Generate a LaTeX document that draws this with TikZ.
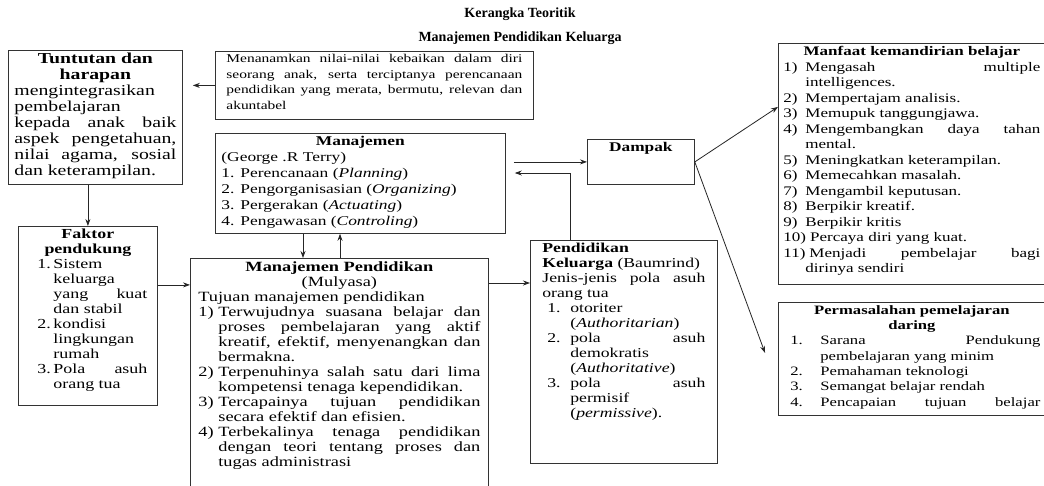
\documentclass[tikz,border=0pt]{standalone}
\usepackage{fontspec}
\usepackage{tikz}
\usetikzlibrary{arrows.meta}
\setmainfont{Liberation Serif}[FakeStretch=1.3]
\newfontfamily\titlefont{Liberation Serif}

\newlength\labw
\newcommand\bx[5]{\parbox[c][#2pt][t]{#1pt}{\fontsize{#3}{#4}\selectfont
  \parindent=0pt\hyphenpenalty=10000\exhyphenpenalty=10000
  \lineskiplimit=-100pt\tolerance=10000\hbadness=10000 #5}}
\newcommand\itm[2]{\par\hangindent=\labw\hangafter=1\noindent
  \sbox0{#1}\dimen0=\wd0 \advance\dimen0 2pt
  \ifdim\dimen0<\labw\makebox[\labw][l]{#1}\else\box0\hspace{4pt}\fi #2}

\begin{document}
\begin{tikzpicture}[
  x=1pt, y=-1pt,
  box/.style={draw=black!80, line width=0.8pt, anchor=north west,
    inner xsep=5pt, inner ysep=3pt},
  arrow/.style={-{Stealth[length=7pt,width=5pt]}, line width=0.8pt, draw=black!85}
]
  \useasboundingbox (0,0) rectangle (1044,485);
  \fill[white] (0,0) rectangle (1044,485);
  \clip (0,0) rectangle (1044,485);

  \node[font=\titlefont\bfseries\fontsize{14}{16}\selectfont] (judul) at (520,14) {Kerangka Teoritik};
  \node[font=\titlefont\bfseries\fontsize{14}{16}\selectfont] (subjudul) at (520,38) {Manajemen Pendidikan Keluarga};

  \node[box, inner xsep=6pt] (tuntutan) at (8,50) {\bx{162}{128}{15.2}{16}{%
    {\centering\bfseries Tuntutan dan\\harapan\par}
    mengintegrasikan\\
    pembelajaran\\
    kepada anak baik\linebreak
    aspek pengetahuan,\linebreak
    nilai agama, sosial\linebreak
    dan keterampilan.}};

  \node[box, inner xsep=11pt] (menanam) at (215,51) {\bx{296}{62}{11.9}{15.5}{%
    Menanamkan nilai-nilai kebaikan dalam diri\linebreak
    seorang anak, serta terciptanya perencanaan\linebreak
    pendidikan yang merata, bermutu, relevan dan\linebreak
    akuntabel}};

  \node[box, inner xsep=6pt] (manajemen) at (215,133) {\bx{278}{94}{13.4}{16}{%
    \setlength\labw{19pt}%
    {\centering\bfseries Manajemen\par}
    (George .R Terry)
    \itm{1.}{Perencanaan (\textit{Planning})}
    \itm{2.}{Pengorganisasian (\textit{Organizing})}
    \itm{3.}{Pergerakan (\textit{Actuating})}
    \itm{4.}{Pengawasan (\textit{Controling})}}};

  \node[box, inner xsep=8pt] (manpend) at (190,258) {\bx{282}{234}{14.1}{15}{%
    \setlength\labw{20pt}%
    {\centering\bfseries Manajemen Pendidikan\par}
    {\centering (Mulyasa)\par}
    Tujuan manajemen pendidikan
    \itm{1)}{Terwujudnya suasana belajar dan\linebreak
      proses pembelajaran yang aktif\linebreak
      kreatif, efektif, menyenangkan dan\linebreak bermakna.}
    \itm{2)}{Terpenuhinya salah satu dari lima\linebreak
      kompetensi tenaga kependidikan.}
    \itm{3)}{Tercapainya tujuan pendidikan\linebreak
      secara efektif dan efisien.}
    \itm{4)}{Terbekalinya tenaga pendidikan\linebreak
      dengan teori tentang proses dan\linebreak tugas administrasi}}};

  \node[box] (faktor) at (18,226) {\bx{129}{173}{13.8}{15}{%
    \setlength\labw{16pt}%
    {\centering\bfseries Faktor\\pendukung\par}
    \leftskip=14pt \rightskip=5pt
    \itm{1.}{Sistem\\keluarga\\yang kuat\linebreak dan stabil}
    \itm{2.}{kondisi\\lingkungan\\rumah}
    \itm{3.}{Pola asuh\linebreak orang tua}}};

  \node[box, inner xsep=12pt] (pendkel) at (530,240) {\bx{163}{217}{13.6}{15}{%
    \setlength\labw{23pt}%
    \textbf{Pendidikan}\\
    \textbf{Keluarga} (Baumrind)\par
    Jenis-jenis pola asuh\linebreak orang tua\par
    \leftskip=5pt
    \itm{1.}{otoriter\\(\textit{Authoritarian})}
    \itm{2.}{pola asuh\linebreak demokratis\\(\textit{Authoritative})}
    \itm{3.}{pola asuh\linebreak permisif\\(\textit{permissive}).}}};

  \node[box] (dampak) at (587,139) {\bx{97}{39}{13.3}{16}{%
    {\centering\bfseries Dampak\par}}};

  \node[box] (manfaat) at (778,43) {\bx{257}{235}{13.1}{15.5}{%
    \setlength\labw{22pt}%
    {\centering\bfseries Manfaat kemandirian belajar\par}
    \itm{1)}{Mengasah multiple\linebreak intelligences.}
    \itm{2)}{Mempertajam analisis.}
    \itm{3)}{Memupuk tanggungjawa.}
    \itm{4)}{Mengembangkan daya tahan\linebreak mental.}
    \itm{5)}{Meningkatkan keterampilan.}
    \itm{6)}{Memecahkan masalah.}
    \itm{7)}{Mengambil keputusan.}
    \itm{8)}{Berpikir kreatif.}
    \itm{9)}{Berpikir kritis}
    \itm{10)}{Percaya diri yang kuat.}
    \itm{11)}{Menjadi pembelajar bagi\linebreak dirinya sendiri}}};

  \node[box] (masalah) at (778,302) {\bx{257}{107}{12.8}{15.3}{%
    \setlength\labw{30pt}%
    {\centering\bfseries Permasalahan pemelajaran\\daring\par}
    \leftskip=7pt
    \itm{1.}{Sarana Pendukung\linebreak pembelajaran yang minim}
    \itm{2.}{Pemahaman teknologi}
    \itm{3.}{Semangat belajar rendah}
    \itm{4.}{Pencapaian tujuan belajar\linebreak}}};

  \draw[arrow, shorten >=10pt] (menanam.west) -- (menanam.west -| tuntutan.east);
  \draw[arrow] (faktor.north |- tuntutan.south) -- (faktor.north);
  \draw[arrow] ([yshift=31pt]faktor.east) coordinate (fk) -- (fk -| manpend.west);
  \draw[arrow] ([xshift=88pt]manajemen.south west) coordinate (mj) -- (mj |- manpend.north);
  \draw[arrow] ([xshift=150pt]manpend.north west) coordinate (mp) -- (mp |- manajemen.south);
  \draw[arrow] ([yshift=-25pt]manpend.north east) coordinate (mk) -- (mk -| pendkel.west);
  \draw[arrow, shorten <=8pt] (dampak.west -| manajemen.east) -- (dampak.west);
  \draw[arrow, shorten >=9pt] ([xshift=40pt]pendkel.north west) |- ([yshift=-40pt]manajemen.north east);
  \draw[arrow] (dampak.east) -- ([yshift=57pt]manfaat.west);
  \draw[arrow] (dampak.east) -- ([xshift=-13pt,yshift=6pt]masalah.west);
\end{tikzpicture}
\end{document}
